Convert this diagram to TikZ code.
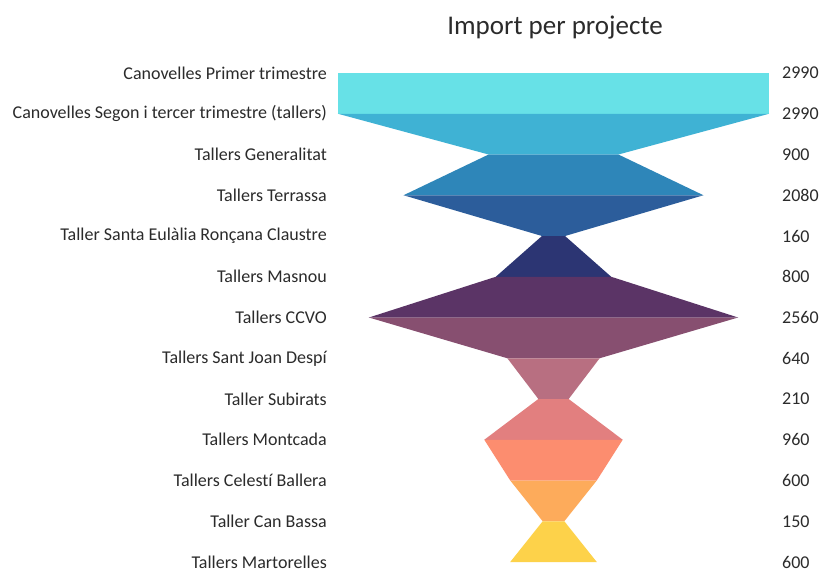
\documentclass[tikz,border=0pt]{standalone}
\usepackage{fontspec}
\setmainfont{Carlito}[Ligatures={NoCommon,NoDiscretionary,NoRare}]
\usepackage{xcolor}
\usetikzlibrary{positioning}
\definecolor{bandA}{HTML}{67E1E7}
\definecolor{bandB}{HTML}{3FB2D4}
\definecolor{bandC}{HTML}{2E86B9}
\definecolor{bandD}{HTML}{2C5D9B}
\definecolor{bandE}{HTML}{2C3573}
\definecolor{bandF}{HTML}{5B3466}
\definecolor{bandG}{HTML}{874F70}
\definecolor{bandH}{HTML}{B86F81}
\definecolor{bandI}{HTML}{E27F7F}
\definecolor{bandJ}{HTML}{FC8D6F}
\definecolor{bandK}{HTML}{FDAB5B}
\definecolor{bandL}{HTML}{FDD24A}
\definecolor{txt}{HTML}{2B2B2B}
\tikzstyle{lbl}=[anchor=east, inner sep=0pt, text=txt, font=\fontsize{18}{18}\selectfont]
\tikzstyle{val}=[anchor=west, inner sep=0pt, text=txt, font=\fontsize{18}{18}\selectfont]
\tikzstyle{ttl}=[inner sep=0pt, text=txt, font=\fontsize{27}{27}\selectfont]
% one band of the funnel: colour, top y, top value, bottom y, bottom value
\newcommand{\funnelBand}[5]{
	\fill[#1] ({553.5-0.0721*#3},{#2}) -- ({553.5+0.0721*#3},{#2}) -- ({553.5+0.0721*#5},{#4}) -- ({553.5-0.0721*#5},{#4}) -- cycle;
}

\begin{document}
\begin{tikzpicture}[x=1pt,y=-1pt]
	\useasboundingbox[fill=white] (0,0) rectangle (823,574);
	\node[ttl] (title) at (555,28) {Import per projecte};
	\foreach \i/\a/\b/\c in {1/2990/2990/bandA, 2/2990/900/bandB, 3/900/2080/bandC, 4/2080/160/bandD, 5/160/800/bandE, 6/800/2560/bandF, 7/2560/640/bandG, 8/640/210/bandH, 9/210/960/bandI, 10/960/600/bandJ, 11/600/150/bandK, 12/150/600/bandL}{
		\funnelBand{\c}{73+40.75*(\i-1)}{\a}{73+40.75*\i}{\b}
	}
	\foreach \i/\name/\v in {1/Canovelles Primer trimestre/2990, 2/Canovelles Segon i tercer trimestre (tallers)/2990, 3/Tallers Generalitat/900, 4/Tallers Terrassa/2080, 5/Taller Santa Eulàlia Ronçana Claustre/160, 6/Tallers Masnou/800, 7/Tallers CCVO/2560, 8/Tallers Sant Joan Despí/640, 9/Taller Subirats/210, 10/Tallers Montcada/960, 11/Tallers Celestí Ballera/600, 12/Taller Can Bassa/150, 13/Tallers Martorelles/600}{
		\node[lbl] (l\i) at (327,{73+40.75*(\i-1)}) {\name};
		\node[val] (v\i) at (782,{73+40.75*(\i-1)}) {\v};
	}
\end{tikzpicture}
\end{document}
